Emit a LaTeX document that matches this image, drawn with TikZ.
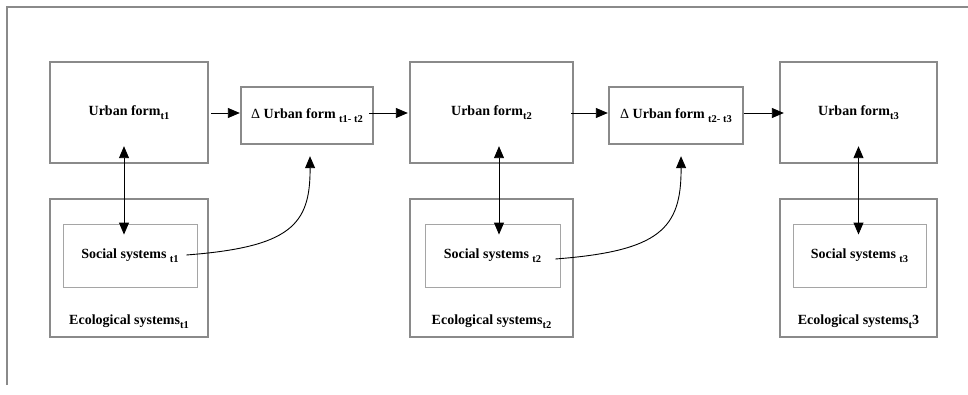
\documentclass[tikz,border=0pt]{standalone}
\usepackage{fontspec}
\setmainfont{Liberation Serif}
\usepackage{tikz}
\usetikzlibrary{arrows.meta}
\usetikzlibrary{positioning}
\definecolor{framegray}{RGB}{138,138,138}
\definecolor{innergray}{RGB}{165,165,165}
\newcommand{\lowsub}[1]{\raisebox{-4.5pt}{\fontsize{10.5}{10.5}\selectfont #1}}
\newcommand{\dlt}{{\mdseries Δ}}
\tikzstyle{formnode}=[draw=framegray, line width=2.4pt, shape=rectangle, fill=white, inner sep=2pt, align=center, font=\fontsize{14}{16}\selectfont\bfseries]
\tikzstyle{deltanode}=[formnode, minimum height=57pt]
\tikzstyle{econode}=[draw=framegray, line width=2.4pt, shape=rectangle, fill=white, minimum height=138pt]
\tikzstyle{socnode}=[draw=innergray, line width=0.9pt, shape=rectangle, fill=white, minimum height=63pt, align=center, font=\fontsize{14}{16}\selectfont\bfseries]
\tikzstyle{ecolabel}=[inner sep=0pt, font=\fontsize{14}{16}\selectfont\bfseries]
\tikzstyle{flow}=[-{Triangle[length=12pt, width=10pt]}, line width=0.9pt, color=black]
\tikzstyle{link}=[{Triangle[length=12pt, width=10pt]}-{Triangle[length=12pt, width=10pt]}, line width=0.9pt, color=black]

\begin{document}
\begin{tikzpicture}[x=1pt, y=1pt]
\useasboundingbox (0,0) rectangle (968,394);
\draw[framegray, line width=2pt] (7,9) -- (7,387) -- (968,387);

\node [formnode, minimum width=158pt, minimum height=101pt] (uf1) at (129,281.5) {Urban form\lowsub{t1}};
\node [deltanode, minimum width=132pt] (d12) at (307,278.5) {\dlt{} Urban form \lowsub{t1- t2}};
\node [formnode, minimum width=163pt, minimum height=101pt] (uf2) at (491.5,281.5) {Urban form\lowsub{t2}};
\node [deltanode, minimum width=134pt] (d23) at (676,278.5) {\dlt{} Urban form \lowsub{t2- t3}};
\node [formnode, minimum width=157pt, minimum height=101pt] (uf3) at (858.5,281.5) {Urban form\lowsub{t3}};

\node [econode, minimum width=158pt] (eco1) at (129,126) {};
\node [econode, minimum width=163pt] (eco2) at (491.5,126) {};
\node [econode, minimum width=157pt] (eco3) at (858.5,126) {};
\node [ecolabel, above=9pt of eco1.south] (eco1txt) {Ecological systems\lowsub{t1}};
\node [ecolabel, above=9pt of eco2.south] (eco2txt) {Ecological systems\lowsub{t2}};
\node [ecolabel, above=9pt of eco3.south] (eco3txt) {Ecological systems\lowsub{t}3};

\node [socnode, minimum width=134pt] (soc1) at (130,138.5) {Social systems \lowsub{t1}};
\node [socnode, minimum width=135pt] (soc2) at (492.5,138.5) {Social systems \lowsub{t2}};
\node [socnode, minimum width=133pt] (soc3) at (859.5,138.5) {Social systems \lowsub{t3}};

\draw[flow] ([xshift=2pt, yshift=-0.5pt]uf1.east) -- ([yshift=-0.5pt]uf1.east -| d12.west);
\draw[flow] ([xshift=-5pt, yshift=2.5pt]d12.east) -- ([xshift=-1pt, yshift=2.5pt]d12.east -| uf2.west);
\draw[flow] ([xshift=-3pt, yshift=-0.5pt]uf2.east) -- ([yshift=-0.5pt]uf2.east -| d23.west);
\draw[flow] ([yshift=2.5pt]d23.east) -- ([xshift=5pt, yshift=2.5pt]d23.east -| uf3.west);

\draw[link] ([xshift=-5pt, yshift=18pt]uf1.south) -- ([xshift=-6pt, yshift=-11pt]soc1.north);
\draw[link] ([xshift=7.5pt, yshift=18pt]uf2.south) -- ([xshift=6.5pt, yshift=-11pt]soc2.north);
\draw[link] ([yshift=18pt]uf3.south) -- ([xshift=-1pt, yshift=-11pt]soc3.north);

\coordinate (c1) at ([xshift=-11pt, yshift=0.5pt]soc1.east);
\coordinate (c2) at ([xshift=-5pt, yshift=-3.5pt]soc2.east);
\draw[flow] (c1) .. controls ([xshift=104pt, yshift=8pt]c1) and ([xshift=124pt, yshift=30pt]c1) .. ([xshift=3pt, yshift=-11pt]d12.south);
\draw[flow] (c2) .. controls ([xshift=104pt, yshift=8pt]c2) and ([xshift=126pt, yshift=30pt]c2) .. ([xshift=5pt, yshift=-11pt]d23.south);
\end{tikzpicture}
\end{document}
